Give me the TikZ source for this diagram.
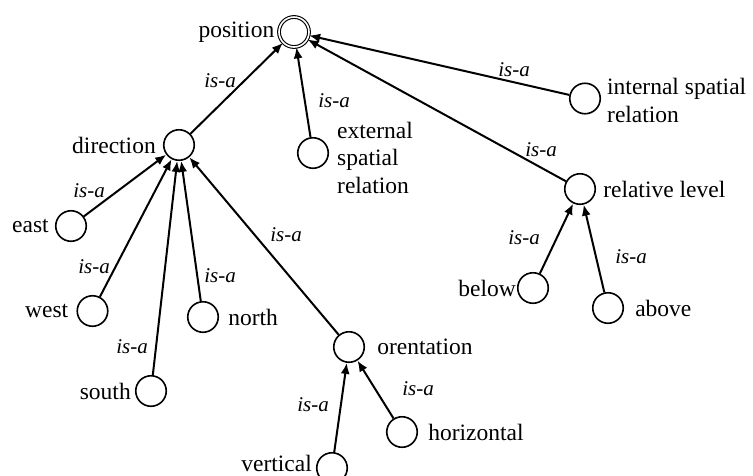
\documentclass[tikz,border=0pt]{standalone}
\usepackage{fontspec}
\setmainfont{Liberation Serif}
\usetikzlibrary{arrows.meta}
\begin{document}
\begin{tikzpicture}[x=1pt,y=-1pt,
  cnode/.style={circle,draw,line width=1.6pt,minimum size=30.5pt,inner sep=0pt},
  txt/.style={font=\fontsize{23.5}{27.5}\selectfont,inner sep=0pt},
  isa/.style={font=\fontsize{21}{24}\selectfont\itshape,inner sep=0pt},
  arr/.style={line width=2pt,-{Latex[length=11pt,width=9pt]}}]
\useasboundingbox (0,0) rectangle (753,475);
% nodes
\node[circle,draw,line width=1.1pt,double,double distance=1.6pt,minimum size=30pt,inner sep=0pt,
      label={[txt,label distance=4pt]left:position}] (pos) at (294,32) {};
\node[cnode,label={[txt,label distance=7pt]left:direction}] (dir) at (179,145) {};
\node[cnode] (ext) at (313,153) {};
\node[txt,anchor=base west,align=left] (extl) at (337,193) {external\\spatial\\relation};
\node[cnode] (int) at (585,98.5) {};
\node[txt,anchor=base west,align=left] (intl) at (607,122) {internal spatial\\relation};
\node[cnode,label={[txt,label distance=7pt]right:relative level}] (rel) at (580,189) {};
\node[cnode,label={[txt,label distance=1pt]left:below}] (below) at (533,288) {};
\node[cnode,label={[txt,label distance=11pt]right:above}] (above) at (608,308) {};
\node[cnode,label={[txt,label distance=6pt]left:east}] (east) at (71,226) {};
\node[cnode,label={[txt,label distance=8pt]left:west}] (west) at (92.5,311) {};
\node[cnode,label={[txt,label distance=4pt]left:south}] (south) at (151,391) {};
\node[cnode,label={[txt,label distance=9pt]right:north}] (north) at (203,317) {};
\node[cnode,label={[txt,label distance=12pt]right:orentation}] (ori) at (349,347) {};
\node[cnode,label={[txt,label distance=10pt]right:horizontal}] (hor) at (402,432) {};
\node[cnode] (ver) at (332,468) {};
\node[txt,anchor=base east] (verl) at (312,471) {vertical};
% connectors
\draw[arr] (dir) -- (pos);
\draw[arr] (ext) -- (pos);
\draw[arr] (int) -- (pos);
\draw[arr] (rel) -- (pos);
\draw[arr] (east) -- (dir);
\draw[arr] (west) -- (dir);
\draw[arr] (south) -- (dir);
\draw[arr] (north) -- (dir);
\draw[arr] (ori) -- (dir);
\draw[arr] (below) -- (rel);
\draw[arr] (above) -- (rel);
\draw[arr] (ver) -- (ori);
\draw[arr] (hor) -- (ori);
% labels
\node[isa] (l1) at (220,81) {is-a};
\node[isa] (l2) at (334,101) {is-a};
\node[isa] (l3) at (514,70) {is-a};
\node[isa] (l4) at (541,150) {is-a};
\node[isa] (l5) at (89,191) {is-a};
\node[isa] (l6) at (94,267) {is-a};
\node[isa] (l7) at (132,347) {is-a};
\node[isa] (l8) at (220,276) {is-a};
\node[isa] (l9) at (286,235) {is-a};
\node[isa] (l10) at (524,238) {is-a};
\node[isa] (l11) at (631,257) {is-a};
\node[isa] (l12) at (313,405) {is-a};
\node[isa] (l13) at (418,389) {is-a};
\end{tikzpicture}
\end{document}
